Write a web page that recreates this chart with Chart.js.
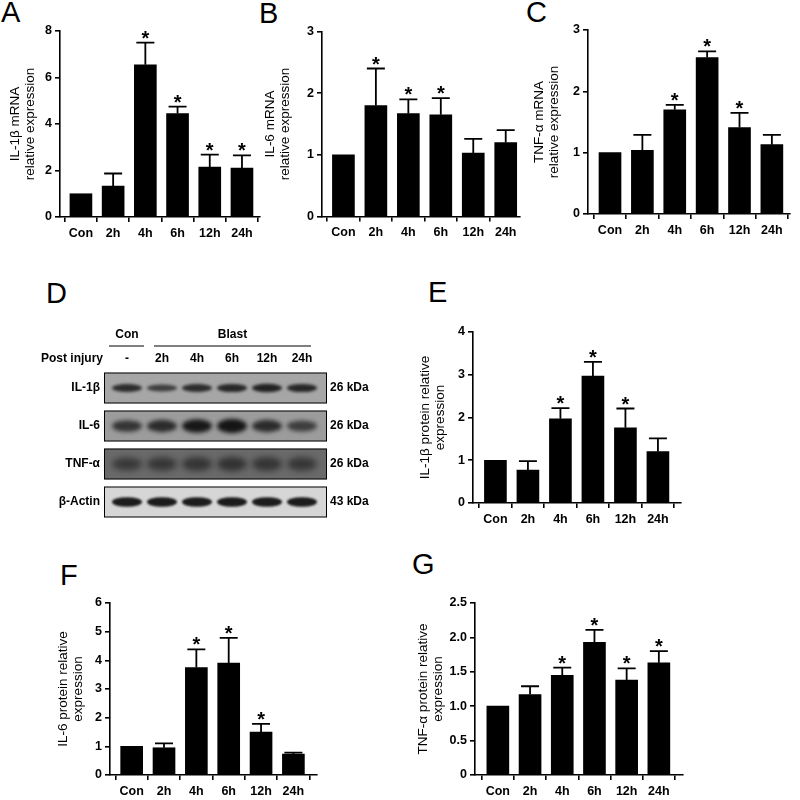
<!DOCTYPE html>
<html>
<head>
<meta charset="utf-8">
<script src="https://cdn.jsdelivr.net/npm/chart.js@4.4.1/dist/chart.umd.min.js"></script>
<style>
  html, body { margin: 0; padding: 0; background: #fff; }
  #fig { position: relative; width: 800px; height: 800px; overflow: hidden; }
  #fig canvas { position: absolute; }
  .tag { position: absolute; font: 29px "Liberation Sans", Arial, sans-serif; line-height: 1; color: #000; }
</style>
</head>
<body>
<div id="fig">
  <div class="tag" style="left:1px;top:-2px">A</div>
  <div class="tag" style="left:259px;top:-1px">B</div>
  <div class="tag" style="left:526px;top:-2px">C</div>
  <div class="tag" style="left:46px;top:279px">D</div>
  <div class="tag" style="left:428px;top:278px">E</div>
  <div class="tag" style="left:60px;top:561px">F</div>
  <div class="tag" style="left:412px;top:550px">G</div>
</div>
<script>
// categories (time after blast)
const categories = ['Con', '2h', '4h', '6h', '12h', '24h'];

// A: IL-1β mRNA
const il1bMrna = [1.0, 1.33, 6.55, 4.45, 2.15, 2.1];
const il1bMrnaSem = [0, 0.54, 0.95, 0.3, 0.53, 0.55];
const il1bMrnaSig = [false, false, true, true, true, true];

// B: IL-6 mRNA
const il6Mrna = [1.0, 1.8, 1.67, 1.65, 1.03, 1.2];
const il6MrnaSem = [0, 0.6, 0.23, 0.27, 0.23, 0.2];
const il6MrnaSig = [false, true, true, true, false, false];

// C: TNF-α mRNA
const tnfMrna = [1.0, 1.04, 1.7, 2.55, 1.41, 1.13];
const tnfMrnaSem = [0, 0.25, 0.08, 0.1, 0.24, 0.16];
const tnfMrnaSig = [false, false, true, true, true, false];

// E: IL-1β protein
const il1bProt = [1.0, 0.77, 1.97, 2.97, 1.76, 1.2];
const il1bProtSem = [0, 0.21, 0.25, 0.33, 0.45, 0.31];
const il1bProtSig = [false, false, true, true, true, false];

// F: IL-6 protein
const il6Prot = [1.0, 0.95, 3.75, 3.9, 1.5, 0.73];
const il6ProtSem = [0, 0.15, 0.63, 0.88, 0.28, 0.05];
const il6ProtSig = [false, false, true, true, true, false];

// G: TNF-α protein
const tnfProt = [1.0, 1.17, 1.45, 1.93, 1.38, 1.63];
const tnfProtSem = [0, 0.12, 0.11, 0.18, 0.17, 0.17];
const tnfProtSig = [false, false, true, true, true, true];

// D: western blot
const blotLanes = ['-', '2h', '4h', '6h', '12h', '24h'];
const blotRows = ['IL-1β', 'IL-6', 'TNF-α', 'β-Actin'];
const blotSizes = ['26 kDa', '26 kDa', '26 kDa', '43 kDa'];
const il1bBand = [0.8, 0.6, 0.8, 0.85, 0.9, 0.85];
const il6Band = [0.6, 0.7, 0.9, 1.0, 0.7, 0.5];
const tnfBand = [0.55, 0.6, 0.65, 0.7, 0.65, 0.6];
const actinBand = [0.95, 0.95, 0.95, 0.95, 0.95, 0.95];

const FONT = '"Liberation Sans", Arial, sans-serif';
const fig = document.getElementById('fig');

function addCanvas(left, top, w, h) {
    const c = document.createElement('canvas');
    c.width = w; c.height = h;
    c.style.left = left + 'px'; c.style.top = top + 'px';
    c.style.width = w + 'px'; c.style.height = h + 'px';
    fig.appendChild(c);
    return c;
}

// error bars (upper only) + significance stars
const errPlugin = {
    id: 'errbars',
    afterDatasetsDraw(chart, args, opts) {
        const {ctx, scales: {x, y}} = chart;
        ctx.save();
        ctx.strokeStyle = '#000';
        ctx.lineWidth = 1.8;
        ctx.fillStyle = '#000';
        ctx.font = 'bold 20px ' + FONT;
        ctx.textAlign = 'center';
        ctx.textBaseline = 'alphabetic';
        opts.mean.forEach((m, i) => {
            const cx = x.getPixelForValue(i);
            const top = y.getPixelForValue(m);
            const cap = y.getPixelForValue(m + opts.sem[i]);
            if (opts.sem[i] > 0) {
                ctx.beginPath();
                ctx.moveTo(cx, top); ctx.lineTo(cx, cap);
                ctx.moveTo(cx - 9, cap); ctx.lineTo(cx + 9, cap);
                ctx.stroke();
            }
            if (opts.sig[i]) ctx.fillText('*', cx, cap + 2);
        });
        ctx.restore();
    }
};

function barPanel(box, mean, sem, sig, yMax, yStep, title, fmt) {
    const canvas = addCanvas(box.left, box.top, box.width, box.height);
    const yW = box.axisX - box.left;
    const xH = box.height - (box.plotBottom - box.top);
    const axisGrid = {display: true, drawOnChartArea: false, drawTicks: true, tickLength: 5, color: '#000', lineWidth: 1.6};
    const tickFont = {family: FONT, size: 12.5, weight: 'bold'};
    new Chart(canvas, {
        type: 'bar',
        data: {
            datasets: [{
                data: mean.map((v, i) => ({x: i, y: v})),
                backgroundColor: '#000',
                borderWidth: 0,
                barThickness: 22
            }]
        },
        options: {
            responsive: false,
            animation: false,
            devicePixelRatio: 1,
            layout: {padding: {left: 0, top: box.plotTop - box.top, right: box.left + box.width - box.plotRight, bottom: 0}},
            plugins: {
                legend: {display: false},
                tooltip: {enabled: false},
                errbars: {mean: mean, sem: sem, sig: sig}
            },
            scales: {
                x: {
                    type: 'linear', min: box.xMin, max: box.xMax, offset: false,
                    afterFit: s => { s.height = xH; },
                    afterBuildTicks: s => { s.ticks = categories.map((c, i) => ({value: i})); },
                    ticks: {callback: v => categories[v], font: tickFont, color: '#000', padding: 4, autoSkip: false, maxRotation: 0},
                    grid: axisGrid,
                    border: {display: true, color: '#000', width: 1.6}
                },
                y: {
                    min: 0, max: yMax,
                    afterFit: s => { s.width = yW; },
                    ticks: {stepSize: yStep, callback: fmt, font: tickFont, color: '#000', padding: 3},
                    grid: axisGrid,
                    border: {display: true, color: '#000', width: 1.6},
                    title: {display: true, text: title, color: '#000', font: {family: FONT, size: 13.5, lineHeight: 1.08}, padding: {top: 2, bottom: 0}}
                }
            }
        },
        plugins: [errPlugin]
    });
}

const intFmt = v => String(v);
const decFmt = v => (v === 0 ? '0' : v.toFixed(1));

// A
barPanel({left: 6, top: 0, width: 262, height: 250, axisX: 60, plotTop: 31, plotBottom: 217, plotRight: 260, xMin: -0.65, xMax: 5.56},
    il1bMrna, il1bMrnaSem, il1bMrnaSig, 8, 2, ['IL-1β mRNA', 'relative expression'], intFmt);
// B
barPanel({left: 261, top: 0, width: 262, height: 250, axisX: 322, plotTop: 31.5, plotBottom: 216.5, plotRight: 520, xMin: -0.66, xMax: 5.44},
    il6Mrna, il6MrnaSem, il6MrnaSig, 3, 1, ['IL-6 mRNA', 'relative expression'], intFmt);
// C
barPanel({left: 530, top: 0, width: 265, height: 250, axisX: 588, plotTop: 30, plotBottom: 214, plotRight: 790, xMin: -0.68, xMax: 5.56},
    tnfMrna, tnfMrnaSem, tnfMrnaSig, 3, 1, ['TNF-α mRNA', 'relative expression'], intFmt);
// E
barPanel({left: 416, top: 320, width: 270, height: 215, axisX: 473, plotTop: 332, plotBottom: 503, plotRight: 681, xMin: -0.69, xMax: 5.71},
    il1bProt, il1bProtSem, il1bProtSig, 4, 1, ['IL-1β protein relative', 'expression'], intFmt);
// F
barPanel({left: 54, top: 590, width: 266, height: 210, axisX: 110, plotTop: 603, plotBottom: 775, plotRight: 317, xMin: -0.67, xMax: 5.73},
    il6Prot, il6ProtSem, il6ProtSig, 6, 1, ['IL-6 protein relative', 'expression'], intFmt);
// G
barPanel({left: 414, top: 590, width: 272, height: 210, axisX: 475, plotTop: 603, plotBottom: 775, plotRight: 683, xMin: -0.71, xMax: 5.75},
    tnfProt, tnfProtSem, tnfProtSig, 2.5, 0.5, ['TNF-α protein relative', 'expression'], decFmt);

// D: blot drawn on category scales (lanes x rows)
const blotBands = [il1bBand, il6Band, tnfBand, actinBand];
const blotLook = [
    {bg: '#a6a6a6', band: '#202020', w: 30, h: 8, blur: 1.5},
    {bg: '#9c9c9c', band: '#151515', w: 30, h: 13, blur: 2},
    {bg: '#6a6a6a', band: '#262626', w: 30, h: 15, blur: 3},
    {bg: '#d6d6d6', band: '#1c1c1c', w: 30, h: 9, blur: 1}
];
const blotPlugin = {
    id: 'blot',
    afterDraw(chart) {
        const {ctx, scales: {x, y}} = chart;
        const left = x.getPixelForValue(0) - 23, right = x.getPixelForValue(5) + 25;
        const rh = 15.5;
        ctx.save();
        blotRows.forEach((name, r) => {
            const cy = y.getPixelForValue(r);
            const look = blotLook[r];
            ctx.save();
            ctx.beginPath();
            ctx.rect(left, cy - rh, right - left, rh * 2);
            ctx.clip();
            ctx.fillStyle = look.bg;
            ctx.fillRect(left, cy - rh, right - left, rh * 2);
            ctx.filter = 'blur(' + look.blur + 'px)';
            blotBands[r].forEach((v, i) => {
                const cx = x.getPixelForValue(i);
                ctx.globalAlpha = Math.min(1, 0.35 + v * 0.7);
                ctx.fillStyle = look.band;
                ctx.beginPath();
                ctx.ellipse(cx, cy, look.w / 2, (look.h / 2) * (0.6 + 0.5 * v), 0, 0, Math.PI * 2);
                ctx.fill();
            });
            ctx.restore();
            ctx.strokeStyle = '#000';
            ctx.lineWidth = 1;
            ctx.strokeRect(left + 0.5, cy - rh + 0.5, right - left - 1, rh * 2 - 1);
            ctx.fillStyle = '#000';
            ctx.font = 'bold 12px ' + FONT;
            ctx.textBaseline = 'middle';
            ctx.textAlign = 'right';
            ctx.fillText(name, left - 4, cy);
            ctx.textAlign = 'left';
            ctx.fillText(blotSizes[r], right + 3, cy);
        });
        // lane header
        const y0 = y.getPixelForValue(0);
        ctx.fillStyle = '#000';
        ctx.font = 'bold 12px ' + FONT;
        ctx.textBaseline = 'middle';
        ctx.textAlign = 'center';
        blotLanes.forEach((l, i) => ctx.fillText(l, x.getPixelForValue(i), y0 - 29));
        ctx.textAlign = 'left';
        ctx.fillText('Post injury', left - 63, y0 - 29);
        ctx.textAlign = 'center';
        const c0 = x.getPixelForValue(0), c1 = x.getPixelForValue(1), c5 = x.getPixelForValue(5);
        ctx.fillText('Con', c0, y0 - 53);
        ctx.fillText('Blast', (c1 - 8 + c5 + 9) / 2, y0 - 53);
        ctx.strokeStyle = '#000';
        ctx.lineWidth = 1.2;
        ctx.beginPath();
        ctx.moveTo(c0 - 18, y0 - 42); ctx.lineTo(c0 + 17, y0 - 42);
        ctx.moveTo(c1 - 8, y0 - 42); ctx.lineTo(c5 + 9, y0 - 42);
        ctx.stroke();
        ctx.restore();
    }
};
const blotCanvas = addCanvas(30, 320, 350, 205);
new Chart(blotCanvas, {
    type: 'scatter',
    data: {datasets: []},
    options: {
        responsive: false,
        animation: false,
        devicePixelRatio: 1,
        layout: {padding: {left: 79.5, right: 60.5, top: 49, bottom: 4}},
        plugins: {legend: {display: false}, tooltip: {enabled: false}},
        scales: {
            x: {type: 'category', labels: blotLanes, offset: true, display: false},
            y: {type: 'category', labels: blotRows, offset: true, display: false}
        }
    },
    plugins: [blotPlugin]
});
</script>
</body>
</html>
